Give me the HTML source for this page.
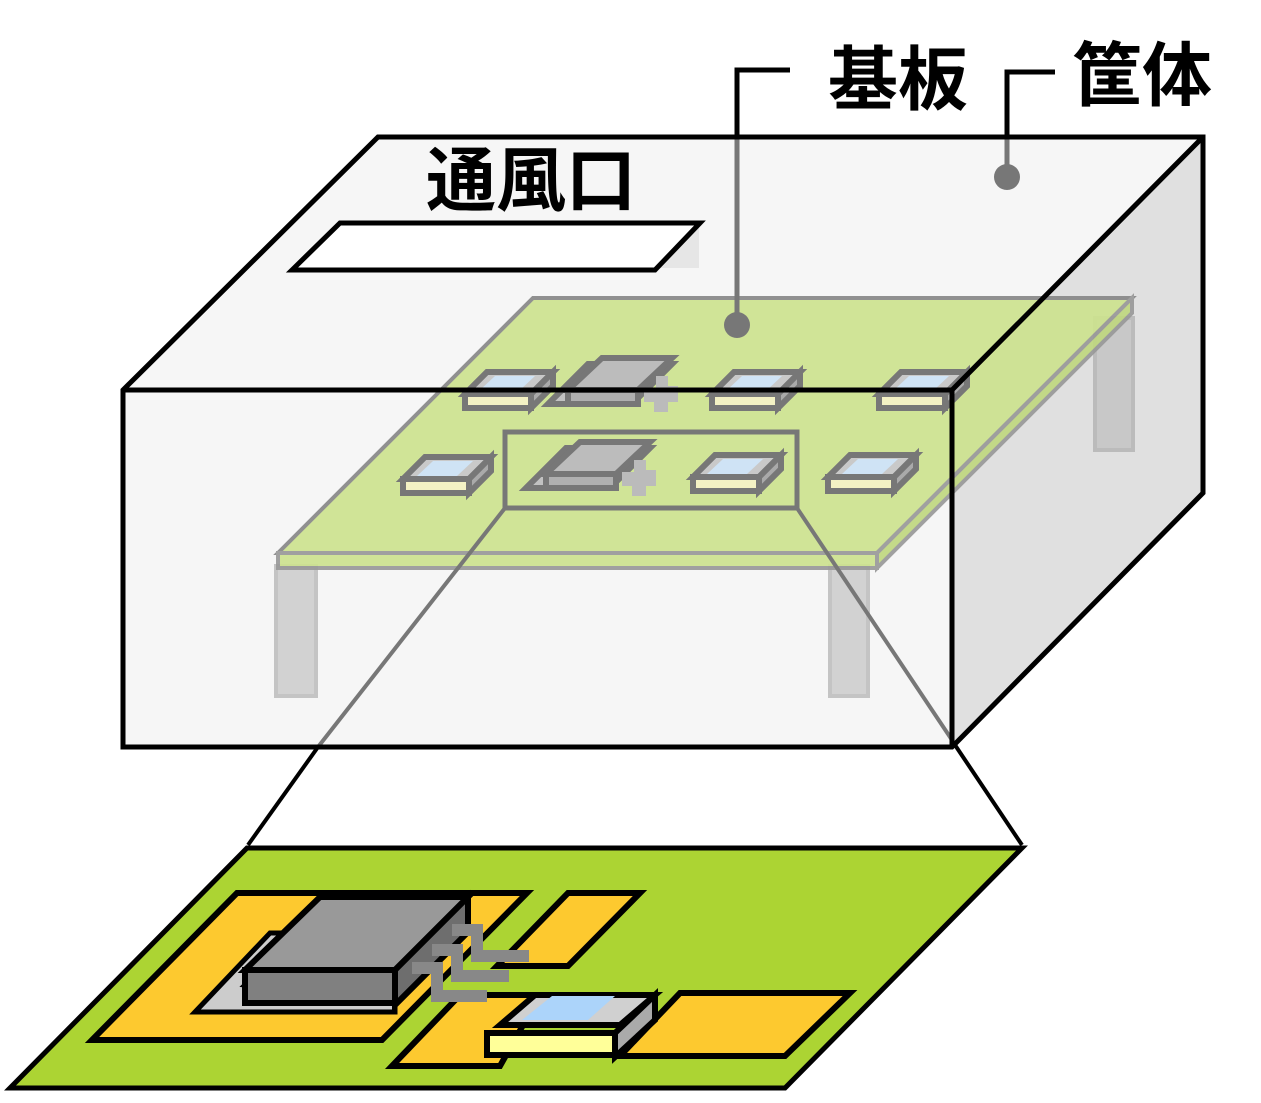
<!DOCTYPE html>
<html><head><meta charset="utf-8"><style>
html,body{margin:0;padding:0;background:#fff;width:1261px;height:1103px;overflow:hidden}
text{font-family:"Liberation Sans","Noto Sans CJK JP",sans-serif;font-weight:bold;fill:#000}
</style></head><body>
<svg width="1261" height="1103" viewBox="0 0 1261 1103" xmlns="http://www.w3.org/2000/svg">
<defs>
<g id="sc">
 <polygon points="0,22 22,0 88,0 66,22" fill="#c9c9c9" stroke="#777" stroke-width="6"/>
 <polygon points="14,19 30,4 70,4 54,19" fill="#cfe3f5"/>
 <rect x="0" y="22" width="66" height="14" fill="#f3f1c4" stroke="#777" stroke-width="6"/>
 <polygon points="66,22 88,0 88,14 66,36" fill="#aaa" stroke="#777" stroke-width="6"/>
</g>
<g id="ic">
 <polygon points="0,46 40,6 124,6 84,46" fill="#c2c2c2" stroke="#777" stroke-width="6"/>
 <polygon points="20,32 54,0 124,0 90,32" fill="#bcbcbc" stroke="#777" stroke-width="6"/>
 <rect x="20" y="32" width="70" height="14" fill="#b0b0b0" stroke="#777" stroke-width="6"/>
 <path d="M96,30 h12 v-12 h12 v10 h10 v16 h-10 v10 h-14 v-10 h-10z" fill="#bbb"/>
</g>
</defs>
<polygon points="123,390 378,137 1203,137 952,390" fill="#f6f6f6"/>
<polygon points="952,390 1203,137 1203,493 952,747" fill="#e0e0e0"/>
<rect x="123" y="390" width="829" height="357" fill="#f6f6f6"/>
<rect x="655" y="225" width="44" height="43" fill="#e6e6e6"/>
<polygon points="292,270 340,223 700,223 655,270" fill="#fff" stroke="#000" stroke-width="5"/>
<rect x="1095" y="318" width="38" height="132" fill="#c8c8c8" stroke="#bbb" stroke-width="4"/>
<rect x="276" y="566" width="40" height="130" fill="#d2d2d2" stroke="#c4c4c4" stroke-width="4"/>
<rect x="830" y="566" width="38" height="130" fill="#d2d2d2" stroke="#c4c4c4" stroke-width="4"/>
<g opacity="0.92">
<polygon points="278,553 533,298 1132,298 877,553" fill="#cde38f" stroke="#888" stroke-width="4"/>
<polygon points="278,553 877,553 877,568 278,568" fill="#cde38f" stroke="#999" stroke-width="4"/>
<polygon points="877,553 1132,298 1132,313 877,568" fill="#c0d880" stroke="#999" stroke-width="4"/>
</g>
<use href="#sc" x="465" y="372"/>
<use href="#sc" x="712" y="372"/>
<use href="#sc" x="879" y="372"/>
<use href="#sc" x="403" y="457"/>
<use href="#sc" x="693" y="455"/>
<use href="#sc" x="828" y="455"/>
<use href="#ic" x="548" y="358"/>
<use href="#ic" x="526" y="442"/>
<rect x="505" y="432" width="292" height="76" fill="none" stroke="#777" stroke-width="5"/>
<line x1="737" y1="137" x2="737" y2="325" stroke="#777" stroke-width="5"/>
<circle cx="737" cy="325" r="13" fill="#777"/>
<line x1="1007" y1="137" x2="1007" y2="177" stroke="#777" stroke-width="5"/>
<circle cx="1007" cy="177" r="13" fill="#777"/>
<line x1="505" y1="508" x2="318" y2="747" stroke="#777" stroke-width="4"/>
<line x1="797" y1="508" x2="952" y2="740" stroke="#777" stroke-width="4"/>
<polygon points="123,390 378,137 1203,137 1203,493 952,747 123,747" fill="none" stroke="#000" stroke-width="5"/>
<polyline points="123,390 952,390 1203,137" fill="none" stroke="#000" stroke-width="5"/>
<line x1="952" y1="390" x2="952" y2="747" stroke="#000" stroke-width="5"/>
<polyline points="790,70 737,70 737,137" fill="none" stroke="#000" stroke-width="5"/>
<polyline points="1055,72 1007,72 1007,137" fill="none" stroke="#000" stroke-width="5"/>
<line x1="318" y1="747" x2="248" y2="845" stroke="#000" stroke-width="4"/>
<line x1="955" y1="745" x2="1022" y2="845" stroke="#000" stroke-width="4"/>
<text x="426" y="205" font-size="70">通風口</text>
<text x="828" y="104" font-size="70">基板</text>
<text x="1072" y="100" font-size="70">筐体</text>
<polygon points="10,1088 247,848 1022,848 785,1088" fill="#acd433" stroke="#000" stroke-width="5"/>
<polygon points="92,1040 237,893 527,893 382,1040" fill="#fdc92f" stroke="#000" stroke-width="6"/>
<polygon points="497,966 568,893 640,893 568,966" fill="#fdc92f" stroke="#000" stroke-width="6"/>
<polygon points="392,1066 460,995 540,995 500,1066" fill="#fdc92f" stroke="#000" stroke-width="6"/>
<polygon points="620,1056 680,993 850,993 785,1056" fill="#fdc92f" stroke="#000" stroke-width="6"/>
<polygon points="195,1012 270,933 300,933 245,985 395,1003 395,1012" fill="#ccc" stroke="#000" stroke-width="5"/>
<polygon points="245,970 320,897 468,897 395,970" fill="#999" stroke="#000" stroke-width="6"/>
<rect x="245" y="970" width="150" height="33" fill="#808080" stroke="#000" stroke-width="6"/>
<polygon points="395,970 468,897 468,932 395,1005" fill="#6e6e6e" stroke="#000" stroke-width="6"/>
<g fill="none" stroke="#888" stroke-width="12">
<path d="M452,930 h25 v26 h52"/>
<path d="M432,950 h25 v26 h52"/>
<path d="M412,968 h25 v28 h50"/>
</g>
<polygon points="500,1025 535,995 655,995 620,1025" fill="#d0d0d0" stroke="#000" stroke-width="6"/>
<polygon points="522,1020 552,996 615,996 588,1020" fill="#acd4fa"/>
<rect x="487" y="1033" width="128" height="22" fill="#ffff99" stroke="#000" stroke-width="6"/>
<polygon points="615,1033 655,995 655,1020 615,1057" fill="#aaa" stroke="#000" stroke-width="6"/>
</svg>
</body></html>
